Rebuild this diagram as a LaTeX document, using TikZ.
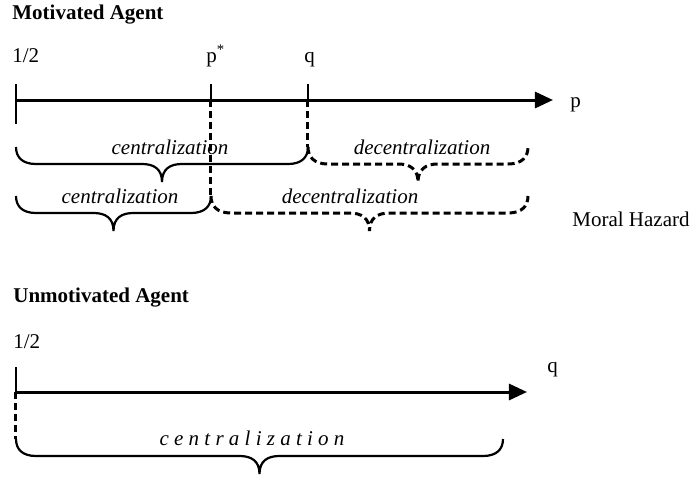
\documentclass[tikz,border=0pt]{standalone}
\usepackage{fontspec}
\setmainfont{Liberation Serif}
\usetikzlibrary{positioning,arrows.meta,calc}

\begin{document}
\begin{tikzpicture}[
    x=0.5pt, y=-0.5pt,
    font=\fontsize{10.5}{12}\selectfont,
    axis/.style={line width=1.5pt, -{Triangle[length=9pt,width=8pt]}},
    tickmark/.style={line width=1.1pt},
    guide/.style={line width=1.5pt, dash pattern=on 3.5pt off 2pt},
    region/.style={line width=1.1pt, to path={
      let \p1=(\tikztostart), \p2=(\tikztotarget), \n1={0.5*(\x1+\x2)} in
      .. controls (\x1,\y1-5pt) and (\x1+3pt,\y1-8.5pt) .. (\x1+10pt,\y1-8.5pt)
      -- (\n1-10pt,\y1-8.5pt)
      .. controls (\n1-4pt,\y1-8.5pt) and (\n1,\y1-11pt) .. (\n1,\y1-17.5pt)
      .. controls (\n1,\y1-11pt) and (\n1+4pt,\y1-8.5pt) .. (\n1+10pt,\y1-8.5pt)
      -- (\x2-10pt,\y1-8.5pt)
      .. controls (\x2-3pt,\y1-8.5pt) and (\x2,\y1-5pt) .. (\tikztotarget)}},
    dregion/.style={region, line width=1.5pt, dash pattern=on 3.5pt off 2pt},
    txt/.style={anchor=base west, inner sep=0pt},
    title/.style={txt, font=\fontsize{10.5}{12}\selectfont\bfseries},
    regname/.style={anchor=base, inner sep=0pt, font=\fontsize{10.5}{12}\selectfont\itshape}
]
  \useasboundingbox (0,0) rectangle (693,477);

  % motivated agent
  \node[title] (mot) at (12,19.5) {Motivated Agent};
  \node[txt] (halfA) at (12,62) {1/2};
  \node[txt] (pstarlbl) at (206,62) {p\textsuperscript{*}};
  \node[txt] (qlbl) at (304,62) {q};
  \node[txt] (plbl) at (570,107) {p};

  \coordinate (oA) at (16,100);
  \coordinate (eA) at (553,100);
  \coordinate (pstar) at (211,100);
  \coordinate (qA) at (308,100);

  \draw[axis] (oA) -- (eA);
  \draw[tickmark] (16,84) -- (16,124);
  \draw[tickmark] (211,84) -- (pstar);
  \draw[tickmark] (308,84) -- (qA);

  \coordinate (r1a) at (16,147);
  \coordinate (r1b) at (308,147);
  \coordinate (r1c) at (528,147);
  \coordinate (r2a) at (16,196);
  \coordinate (r2b) at (211,196);
  \coordinate (r2c) at (528,196);

  \draw[guide] (qA) -- (r1b);
  \draw[guide] (pstar) -- (r2b);

  \draw[region] (r1a) to (r1b);
  \draw[dregion] (r1b) to (r1c);
  \node[regname] (cenA) at (170,154) {centralization};
  \node[regname] (decA) at (422,154) {decentralization};

  \draw[region] (r2a) to (r2b);
  \draw[dregion] (r2b) to (r2c);
  \node[regname] (cenB) at (120,203) {centralization};
  \node[regname] (decB) at (350,203) {decentralization};

  \node[txt] (moral) at (572,226) {Moral Hazard};

  % unmotivated agent
  \node[title] (unmot) at (13,302) {Unmotivated Agent};
  \node[txt] (halfB) at (13,348) {1/2};
  \node[txt] (qB) at (547,372) {q};

  \coordinate (oB) at (16,392);
  \coordinate (eB) at (527,392);
  \coordinate (r3a) at (16,439);
  \coordinate (r3b) at (503,439);

  \draw[axis] (oB) -- (eB);
  \draw[tickmark] (16,367) -- (oB);
  \draw[guide] (oB) -- (r3a);
  \draw[region] (r3a) to (r3b);
  \node[regname] (cenC) at (252,445) {c e n t r a l i z a t i o n};
\end{tikzpicture}
\end{document}
